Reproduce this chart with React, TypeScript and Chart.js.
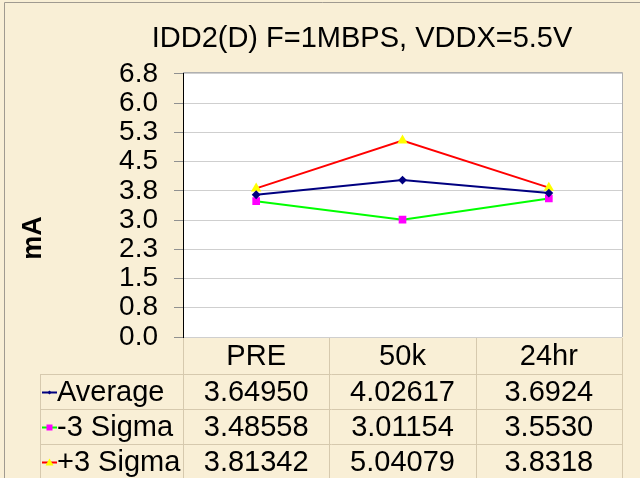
import React, { useEffect, useRef } from "react";
import { Chart, registerables } from "chart.js";

Chart.register(...registerables);

const chartTitle = "IDD2(D) F=1MBPS, VDDX=5.5V";
const yAxisTitle = "mA";
const categories = ["PRE", "50k", "24hr"];
const seriesNames = ["Average", "-3 Sigma", "+3 Sigma"];
const averageValues = [3.6495, 4.02617, 3.6924];
const minus3SigmaValues = [3.48558, 3.01154, 3.553];
const plus3SigmaValues = [3.81342, 5.04079, 3.8318];
const averageText = ["3.64950", "4.02617", "3.6924"];
const minus3SigmaText = ["3.48558", "3.01154", "3.5530"];
const plus3SigmaText = ["3.81342", "5.04079", "3.8318"];
const yMin = 0;
const yMax = 6.8;
const yTickValues = [0, 0.75, 1.5, 2.25, 3, 3.75, 4.5, 5.25, 6, 6.75];

const FONT = "'Liberation Sans', Arial, sans-serif";
const BG = "#F9EFD6";
const TABLE_LINE = "#D6C9AE";

const seriesStyles = [
  { line: "#000080", point: "#000080", pointStyle: "rectRot", radius: 3 },
  { line: "#00FF00", point: "#FF00FF", pointStyle: "rect", radius: 4 },
  { line: "#FF0000", point: "#FFFF00", pointStyle: "triangle", radius: 4 },
];

function drawMarker(ctx: CanvasRenderingContext2D, style: string, x: number, y: number, r: number, color: string) {
  ctx.save();
  ctx.fillStyle = color;
  ctx.beginPath();
  if (style === "rect") {
    ctx.rect(x - r, y - r, 2 * r, 2 * r);
  } else if (style === "triangle") {
    ctx.moveTo(x, y - r - 1);
    ctx.lineTo(x + r + 1, y + r);
    ctx.lineTo(x - r - 1, y + r);
    ctx.closePath();
  } else {
    ctx.moveTo(x, y - r);
    ctx.lineTo(x + r, y);
    ctx.lineTo(x, y + r);
    ctx.lineTo(x - r, y);
    ctx.closePath();
  }
  ctx.fill();
  ctx.restore();
}

const decorPlugin = {
  id: "decor",
  beforeDraw(chart: any) {
    const ctx = chart.ctx as CanvasRenderingContext2D;
    const { left, right, top, bottom } = chart.chartArea;
    ctx.save();
    ctx.fillStyle = BG;
    ctx.fillRect(0, 0, chart.width, chart.height);
    ctx.strokeStyle = "#A09A90";
    ctx.lineWidth = 1;
    ctx.beginPath();
    ctx.moveTo(4.5, chart.height);
    ctx.lineTo(4.5, 2.5);
    ctx.lineTo(chart.width, 2.5);
    ctx.stroke();
    ctx.fillStyle = "#FFFFFF";
    ctx.fillRect(left, top, right - left, bottom - top);
    // title
    ctx.fillStyle = "#000";
    ctx.font = `29px ${FONT}`;
    ctx.textAlign = "center";
    ctx.textBaseline = "alphabetic";
    ctx.fillText(chartTitle, 362, 47);
    // y title
    ctx.translate(34, 238);
    ctx.rotate(-Math.PI / 2);
    ctx.font = `bold 27px ${FONT}`;
    ctx.textBaseline = "middle";
    ctx.fillText(yAxisTitle, 0, 0);
    ctx.restore();
  },
  afterDraw(chart: any) {
    const ctx = chart.ctx as CanvasRenderingContext2D;
    const { left, right, top, bottom } = chart.chartArea;
    const xs = chart.scales.x;
    ctx.save();
    // plot top/right border
    ctx.strokeStyle = "#B0B0B0";
    ctx.lineWidth = 1;
    ctx.beginPath();
    ctx.moveTo(left, Math.round(top) + 0.5);
    ctx.lineTo(Math.round(right) + 0.5, Math.round(top) + 0.5);
    ctx.lineTo(Math.round(right) + 0.5, bottom);
    ctx.stroke();

    const colW = (right - left) / categories.length;
    const headerH = 37;
    const rowH = 35;
    const tableLeft = 40;
    const rowTops = [bottom + headerH, bottom + headerH + rowH, bottom + headerH + 2 * rowH];

    ctx.strokeStyle = TABLE_LINE;
    ctx.beginPath();
    for (let i = 0; i <= categories.length; i++) {
      const x = Math.round(left + i * colW) + 0.5;
      ctx.moveTo(x, bottom + 1);
      ctx.lineTo(x, chart.height);
    }
    ctx.moveTo(tableLeft + 0.5, rowTops[0]);
    ctx.lineTo(tableLeft + 0.5, chart.height);
    rowTops.forEach((y) => {
      const yy = Math.round(y) + 0.5;
      ctx.moveTo(tableLeft, yy);
      ctx.lineTo(right + 1, yy);
    });
    ctx.stroke();

    ctx.fillStyle = "#000";
    ctx.font = `29px ${FONT}`;
    ctx.textBaseline = "middle";
    ctx.textAlign = "center";
    categories.forEach((c, i) => {
      ctx.fillText(c, xs.getPixelForValue(i), bottom + headerH / 2 + 1);
    });
    const texts = [averageText, minus3SigmaText, plus3SigmaText];
    texts.forEach((row, r) => {
      const cy = rowTops[r] + rowH / 2 + 1;
      row.forEach((t, i) => {
        ctx.fillText(t, xs.getPixelForValue(i), cy);
      });
      const st = seriesStyles[r];
      ctx.strokeStyle = st.line;
      ctx.lineWidth = 2;
      ctx.beginPath();
      ctx.moveTo(42, cy);
      ctx.lineTo(57, cy);
      ctx.stroke();
      drawMarker(ctx, st.pointStyle, 49.5, cy, st.radius - 1, st.point);
      ctx.fillStyle = "#000";
      ctx.textAlign = "left";
      ctx.fillText(seriesNames[r], 57, cy);
      ctx.textAlign = "center";
    });
    ctx.restore();
  },
};

export default function App() {
  const ref = useRef<HTMLCanvasElement | null>(null);
  useEffect(() => {
    if (!ref.current) return;
    const values = [averageValues, minus3SigmaValues, plus3SigmaValues];
    const chart = new Chart(ref.current, {
      type: "line",
      data: {
        labels: categories,
        datasets: values.map((v, i) => ({
          label: seriesNames[i],
          data: v,
          borderColor: seriesStyles[i].line,
          backgroundColor: seriesStyles[i].point,
          pointBackgroundColor: seriesStyles[i].point,
          pointBorderColor: seriesStyles[i].point,
          pointStyle: seriesStyles[i].pointStyle as any,
          pointRadius: seriesStyles[i].radius,
          borderWidth: 2,
          tension: 0,
          fill: false,
        })),
      },
      options: {
        responsive: false,
        animation: false,
        layout: { padding: { left: 0, right: 18, top: 72, bottom: 141 } },
        plugins: {
          legend: { display: false },
          title: { display: false },
          tooltip: { enabled: false },
        },
        scales: {
          x: { type: "category", display: false, offset: true },
          y: {
            min: yMin,
            max: yMax,
            afterBuildTicks: (scale: any) => {
              scale.ticks = yTickValues.map((v) => ({ value: v }));
            },
            afterFit: (scale: any) => {
              scale.width = 183;
            },
            ticks: {
              autoSkip: false,
              color: "#000",
              padding: 16,
              font: { family: FONT, size: 28, lineHeight: 1 },
              callback: (v: any) => Number(v).toFixed(1),
            },
            grid: { color: "#CFCFCF", tickColor: "#909090", tickLength: 9 },
            border: { color: "#000", width: 1 },
          },
        },
      },
      plugins: [decorPlugin],
    });
    return () => chart.destroy();
  }, []);
  return (
    <div style={{ position: "absolute", left: 0, top: 0, width: 640, height: 478 }}>
      <canvas ref={ref} width={640} height={478} style={{ display: "block" }} />
    </div>
  );
}
